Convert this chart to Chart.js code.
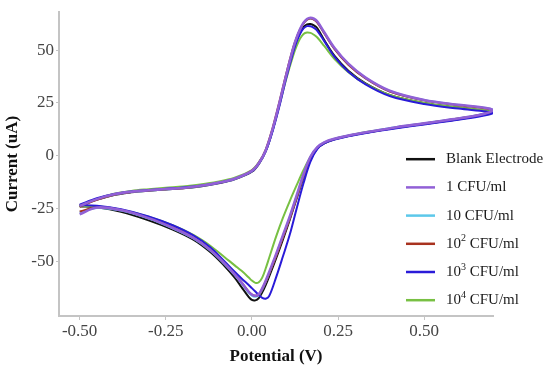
<!DOCTYPE html>
<html>
<head>
<meta charset="utf-8">
<script src="https://cdn.jsdelivr.net/npm/chart.js@4.4.0/dist/chart.umd.min.js"></script>
<style>
  html, body { margin: 0; padding: 0; background: #fff; }
</style>
</head>
<body>
<canvas id="cv" width="550" height="370"></canvas>
<script>
// potential sweep: forward scan (left to right), then reverse scan (right to left)
const potential = [
  -0.50, -0.45, -0.40, -0.35, -0.30, -0.25, -0.20, -0.15, -0.10, -0.05, 0.00, 0.02, 0.04, 0.06, 0.08, 0.10,
  0.12, 0.13, 0.14, 0.15, 0.16, 0.17, 0.18, 0.19, 0.21, 0.24, 0.28, 0.33, 0.40, 0.50, 0.60, 0.68,
  0.70, 0.66, 0.58, 0.50, 0.42, 0.34, 0.28, 0.24, 0.21, 0.19, 0.17, 0.15, 0.13, 0.11, 0.09, 0.07,
  0.05, 0.04, 0.03, 0.02, 0.01, 0.00, -0.01, -0.03, -0.05, -0.08, -0.12, -0.17, -0.23, -0.30, -0.38, -0.45, -0.50
];

const blank = [
  -23.5, -20.8, -18.6, -17.4, -16.6, -16.0, -15.5, -14.6, -13.2, -11.2, -7.6, -4.0, 2.0, 12.0, 24.5, 38.0,
  50.0, 54.8, 58.5, 61.0, 62.2, 62.4, 61.8, 60.4, 54.8, 47.3, 40.3, 34.3, 28.8, 25.0, 22.8, 21.3,
  20.6, 18.9, 16.8, 15.0, 13.2, 11.1, 9.3, 7.7, 5.8, 3.4, -1.8, -10.3, -20.3, -30.3, -39.8, -48.8,
  -57.3, -61.3, -64.8, -67.5, -68.6, -68.4, -66.8, -62.3, -57.8, -52.2, -45.8, -39.8, -35.0, -30.6, -26.6, -24.5, -24.0
];
const cfu1 = [
  -23.8, -20.6, -18.3, -17.1, -16.4, -15.8, -15.3, -14.3, -12.9, -10.9, -7.2, -3.6, 2.5, 12.5, 25.0, 38.5,
  51.0, 56.0, 60.0, 63.0, 64.8, 65.4, 64.9, 63.6, 58.5, 51.0, 43.6, 37.0, 30.8, 26.4, 24.1, 22.6,
  21.5, 19.3, 17.2, 15.3, 13.5, 11.3, 9.5, 8.0, 6.3, 4.0, -0.5, -8.8, -18.8, -28.8, -37.8, -46.8,
  -55.3, -59.3, -62.9, -65.6, -66.4, -65.9, -64.4, -60.2, -56.3, -51.0, -44.8, -39.0, -34.2, -29.6, -25.8, -24.6, -27.8
];
const cfu10 = [
  -24.0, -20.8, -18.5, -17.2, -16.5, -15.9, -15.3, -14.4, -13.0, -11.0, -7.3, -3.7, 2.4, 12.3, 24.8, 38.3,
  50.8, 55.8, 59.8, 62.8, 64.5, 65.1, 64.6, 63.3, 58.2, 50.7, 43.3, 36.8, 30.6, 26.3, 24.0, 22.5,
  21.6, 19.4, 17.2, 15.3, 13.5, 11.3, 9.5, 8.0, 6.2, 3.9, -0.8, -9.2, -19.3, -29.3, -38.3, -47.3,
  -55.8, -59.8, -63.3, -66.0, -66.8, -66.3, -64.8, -60.5, -56.5, -51.2, -45.0, -39.2, -34.4, -29.8, -26.0, -24.8, -27.0
];
const cfu100 = [
  -24.2, -20.9, -18.5, -17.2, -16.5, -15.9, -15.4, -14.4, -13.0, -11.0, -7.1, -3.4, 2.8, 13.0, 25.6, 39.0,
  51.2, 56.0, 59.8, 62.7, 64.4, 65.0, 64.5, 63.1, 58.0, 50.5, 43.1, 36.6, 30.4, 26.2, 23.9, 22.4,
  21.4, 19.3, 17.1, 15.2, 13.4, 11.2, 9.4, 7.9, 6.1, 3.8, -1.2, -9.6, -19.8, -29.8, -38.8, -47.8,
  -56.0, -59.8, -63.2, -65.8, -66.4, -65.8, -64.3, -60.0, -56.0, -50.8, -44.6, -38.8, -34.0, -29.5, -25.7, -24.5, -26.5
];
const cfu1000 = [
  -23.2, -20.2, -18.2, -17.0, -16.3, -15.7, -15.1, -14.3, -13.0, -11.0, -7.4, -3.8, 2.0, 11.5, 23.5, 37.0,
  49.0, 54.0, 57.8, 60.3, 61.4, 61.3, 60.6, 59.2, 54.3, 46.8, 39.8, 33.8, 28.3, 24.5, 22.3, 20.9,
  20.2, 18.6, 16.6, 14.8, 13.0, 11.0, 9.2, 7.6, 5.8, 3.2, -2.8, -13.0, -25.0, -37.4, -47.8, -57.8,
  -66.6, -67.8, -67.4, -66.0, -64.4, -62.8, -61.2, -58.2, -55.0, -50.0, -43.5, -37.8, -33.0, -28.8, -25.4, -23.7, -23.5
];
const cfu10000 = [
  -24.0, -20.5, -18.0, -16.7, -15.9, -15.2, -14.6, -13.7, -12.4, -10.4, -6.8, -3.2, 2.5, 12.0, 24.0, 36.5,
  47.5, 52.0, 55.5, 57.7, 58.4, 58.2, 57.3, 56.0, 52.0, 45.8, 39.6, 34.0, 28.8, 25.0, 22.8, 21.3,
  20.7, 19.0, 16.9, 15.1, 13.3, 11.4, 9.5, 7.9, 6.1, 3.8, -0.5, -6.8, -14.0, -21.5, -29.5, -38.5,
  -48.5, -53.5, -57.8, -60.0, -60.3, -59.2, -57.6, -54.6, -52.0, -48.0, -42.8, -37.6, -33.0, -28.9, -25.6, -24.0, -24.0
];

const seriesLabels = ["Blank Electrode", "1 CFU/ml", "10 CFU/ml", "10² CFU/ml", "10³ CFU/ml", "10⁴ CFU/ml"];
const xTicks = [-0.50, -0.25, 0.00, 0.25, 0.50];
const yTicks = [-50, -25, 0, 25, 50];

const serifFont = '"Liberation Serif", "Times New Roman", serif';
const axisGray = "#c4c4c4";

function toPoints(values) {
    return potential.map((v, i) => ({ x: v, y: values[i] }));
}

// colour, width and draw order (lower order is painted on top)
const styles = [
    { color: "#111111", width: 2, order: 6 },
    { color: "#9160d6", width: 2.6, order: 1 },
    { color: "#5cc8ea", width: 2.2, order: 4 },
    { color: "#a8321f", width: 2, order: 3 },
    { color: "#2a1bd8", width: 2, order: 2 },
    { color: "#78c043", width: 2, order: 5 }
];
const allSeries = [blank, cfu1, cfu10, cfu100, cfu1000, cfu10000];

const supers = { "²": "2", "³": "3", "⁴": "4" };

function drawLabel(ctx, text, x, y) {
    ctx.textBaseline = "middle";
    ctx.textAlign = "left";
    ctx.fillStyle = "#1a1a1a";
    let buf = "";
    const flush = () => {
        if (!buf) return;
        ctx.font = "15px " + serifFont;
        ctx.fillText(buf, x, y);
        x += ctx.measureText(buf).width;
        buf = "";
    };
    for (const ch of text) {
        if (supers[ch]) {
            flush();
            ctx.font = "10px " + serifFont;
            ctx.fillText(supers[ch], x, y - 5);
            x += ctx.measureText(supers[ch]).width;
        } else {
            buf += ch;
        }
    }
    flush();
}

// legend sits inside the plot area, lower right
const insideLegend = {
    id: "insideLegend",
    afterDraw(chart) {
        const { ctx, chartArea } = chart;
        const x0 = chartArea.right - 87;
        const y0 = chartArea.top + 147;
        ctx.save();
        chart.data.datasets.forEach((ds, i) => {
            const y = y0 + i * 28.2;
            ctx.strokeStyle = ds.borderColor;
            ctx.lineWidth = 2.5;
            ctx.beginPath();
            ctx.moveTo(x0, y);
            ctx.lineTo(x0 + 29, y);
            ctx.stroke();
            drawLabel(ctx, ds.label, x0 + 40, y);
        });
        ctx.restore();
    }
};

const ctx = document.getElementById("cv").getContext("2d");

new Chart(ctx, {
    type: "scatter",
    data: {
        datasets: allSeries.map((values, i) => ({
            label: seriesLabels[i],
            data: toPoints(values),
            showLine: true,
            borderColor: styles[i].color,
            backgroundColor: styles[i].color,
            borderWidth: styles[i].width,
            order: styles[i].order,
            pointRadius: 0,
            tension: 0.35,
            fill: false
        }))
    },
    options: {
        responsive: false,
        animation: false,
        devicePixelRatio: 1,
        layout: {
            padding: { top: 8, right: 57, left: 0, bottom: 0 }
        },
        scales: {
            x: {
                type: "linear",
                min: -0.56,
                max: 0.70,
                afterBuildTicks: scale => { scale.ticks = xTicks.map(v => ({ value: v })); },
                afterFit: scale => { scale.height = 54; },
                ticks: {
                    callback: v => v.toFixed(2),
                    color: "#444",
                    padding: 1,
                    maxRotation: 0,
                    autoSkip: false,
                    font: { family: serifFont, size: 17 }
                },
                grid: { drawOnChartArea: false, tickLength: 4, color: axisGray },
                border: { color: axisGray, width: 2 },
                title: {
                    display: true,
                    text: "Potential (V)",
                    color: "#111",
                    padding: { top: 0, bottom: 3 },
                    font: { family: serifFont, size: 17, weight: "bold", lineHeight: 1.2 }
                }
            },
            y: {
                type: "linear",
                min: -76,
                max: 68,
                afterBuildTicks: scale => { scale.ticks = yTicks.map(v => ({ value: v })); },
                afterFit: scale => { scale.width = 59; },
                ticks: {
                    callback: v => String(v),
                    color: "#444",
                    padding: 2,
                    font: { family: serifFont, size: 17 }
                },
                grid: { drawOnChartArea: false, tickLength: 3, color: axisGray },
                border: { color: axisGray, width: 2 },
                title: {
                    display: true,
                    text: "Current (uA)",
                    color: "#111",
                    padding: { top: 2, bottom: 0 },
                    font: { family: serifFont, size: 17, weight: "bold", lineHeight: 1.2 }
                }
            }
        },
        plugins: {
            legend: { display: false },
            tooltip: { enabled: false }
        }
    },
    plugins: [insideLegend]
});
</script>
</body>
</html>
